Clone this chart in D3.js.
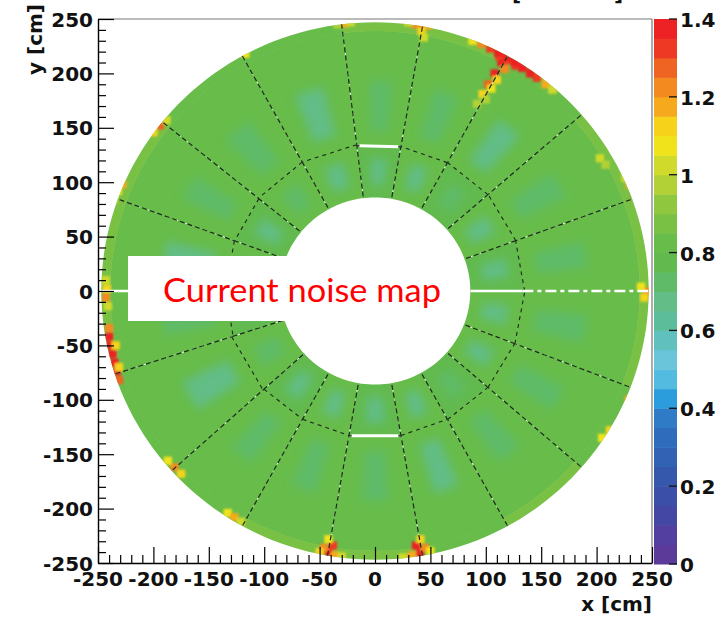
<!DOCTYPE html>
<html><head><meta charset="utf-8">
<script src="https://cdn.jsdelivr.net/npm/d3@7/dist/d3.min.js"></script>
<style>body{margin:0;background:#fff}svg{display:block}</style>
</head><body>
<svg id="c" width="722" height="617"></svg>
<script>
// ---------------- data ----------------
const xTicks = [-250,-200,-150,-100,-50,0,50,100,150,200,250];
const yTicks = [-250,-200,-150,-100,-50,0,50,100,150,200,250];
const zTicks = [0,0.2,0.4,0.6,0.8,1,1.2,1.4];
const zTickLabels = ["0","0.2","0.4","0.6","0.8","1","1.2","1.4"];
const titleText = ["[", "]"];
const xTitle = "x [cm]";
const yTitle = "y [cm]";
const noteText = "Current noise map";

// sector boundary angles (deg)
const sectorAngles = [0,20,41,61,80,97,119,141,160,180,198,222,241,260,280,299,319,339,360];
// radii (cm): hole, middle boundary (flat), start of outer fringe, outer edge
const ringDist = [86,133,239,247];
// per-sector noise values
const innerBase  = [0.79,0.80,0.79,0.80,0.79,0.80,0.80,0.79,0.80,0.79,0.80,0.79,0.80,0.79,0.80,0.79,0.80,0.80];
const innerPatch = [0.68,0.67,0.70,0.68,0.65,0.68,0.70,0.68,0.67,0.68,0.70,0.68,0.67,0.65,0.68,0.70,0.68,0.67];
const outerBase  = [0.80,0.81,0.80,0.81,0.80,0.80,0.81,0.80,0.80,0.81,0.80,0.81,0.80,0.80,0.81,0.80,0.81,0.80];
const outerPatch = [0.70,0.71,0.69,0.70,0.71,0.68,0.70,0.70,0.69,0.70,0.68,0.70,0.71,0.70,0.69,0.70,0.71,0.70];
const outerEdge  = [0.86,0.88,0.82,0.87,0.86,0.84,0.82,0.85,0.86,0.88,0.84,0.82,0.86,0.88,0.84,0.86,0.84,0.85];
// hot cells [x cm, y cm, value]
const hotCells = [
 [121,219,1.4],[114,210,1.4],[108,200,1.35],[102,190,1.25],[97,181,1.1],[92,172,0.95],
 [128,214,1.4],[135,209,1.35],[142,204,1.3],[149,199,1.2],[156,193,1.05],[163,187,0.95],
 [114,224,1.35],[106,228,1.25],[98,232,1.1],[90,235,0.95],[120,212,1.3],[127,207,1.3],[112,216,1.3],
 [131,220,1.3],[138,214,1.35],[145,208,1.25],[117,204,1.2],[110,194,1.1],[152,205,1.1],
 [146,196,1.3],[140,200,1.4],[133,205,1.4],[126,210,1.35],[119,215,1.4],[111,219,1.35],[104,223,1.3],[96,227,1.2],[88,230,1.05],
 [154,190,1.15],[160,185,1.0],[105,186,1.05],[100,176,0.95],
 [42,245,1.4],[36,245,1.2],[48,244,1.15],[42,239,1.1],[30,247,1.0],[44,233,1.0],
 [-28,246,1.15],[-22,247,1.0],[-34,245,0.98],
 [-117,218,1.05],[-194,152,1.25],[-200,146,1.1],[-188,157,1.0],
 [-232,92,1.05],[-236,84,1.0],[-228,98,1.15],
 [-242,2,1.1],[-243,-6,1.2],[-243,10,1.0],[-241,-14,1.0],
 [-240,-34,1.2],[-240,-42,1.35],[-239,-50,1.4],[-237,-58,1.35],[-235,-66,1.4],[-233,-74,1.35],[-231,-82,1.25],[-234,-50,1.1],[-231,-70,1.1],
 [-181,-162,1.2],[-175,-168,1.1],[-187,-156,1.05],[-133,-204,1.05],[-127,-208,1.15],[-121,-212,1.0],
 [-42,-240,1.4],[-38,-234,1.3],[-46,-236,1.2],[-36,-243,1.15],[-50,-240,1.1],[-30,-244,1.0],[-42,-228,1.05],
 [41,-241,1.4],[37,-234,1.35],[45,-236,1.2],[33,-243,1.15],[50,-239,1.05],[41,-228,1.1],[25,-245,1.0],
 [190,-172,1.25],[184,-178,1.1],[196,-166,1.05],[205,-135,1.05],[212,-128,1.1],
 [235,-94,1.3],[229,-100,1.15],[239,-86,1.05],
 [246,0,1.2],[240,4,1.05],[243,-6,1.1],
 [235,90,1.3],[239,82,1.1],[230,98,1.15],[226,104,1.0],[203,122,1.0],[208,116,0.95]
];
// white (dead) gaps: radial [angle, from r, to r]; middle-boundary segments by sector index
const whiteRadial = [[0,86,133],[180,222,247]];
const whiteMid = [4,13];
// colour palette (28 bands of 0.05 from 0 to 1.4)
const paletteColors = ["#5b3a9a","#523f9f","#4547a5","#3b4fa9","#3558ad","#3262b3","#2f6cbb","#2f7bc6",
 "#2b9ddc","#54bbe0","#6ac4da","#5fc0bd","#5bbd9a","#62bd86","#5fbb68","#62ba4e","#67bc4a","#79c145",
 "#8fc73f","#b2d136","#d0da2b","#f0e31b","#f6d31a","#f6a91d","#f38a20","#f06423","#ee3a24","#ec2224"];

// ---------------- scales & helpers ----------------
const svg = d3.select("#c");
const x = d3.scaleLinear().domain([-250,250]).range([98,652]);
const y = d3.scaleLinear().domain([-250,250]).range([563,19]);
const z = d3.scaleLinear().domain([0,1.4]).range([564,19]);
const step = 1.4/paletteColors.length;
const color = v => paletteColors[Math.max(0,Math.min(paletteColors.length-1,Math.floor(v/step+1e-9)))];
const rad = a => a*Math.PI/180;
const nSec = sectorAngles.length-1;
const secMid = i => (sectorAngles[i]+sectorAngles[i+1])/2;
function edgePt(kind, d, ang, mid){ const r = kind==="arc"? d : d/Math.cos(rad(ang-mid)); return [r*Math.cos(rad(ang)), r*Math.sin(rad(ang))]; }
const line = d3.line().x(p=>x(p[0])).y(p=>y(p[1]));
function edge(kind, d, b0, b1, m){ const n=kind==="arc"?10:1; return d3.range(n+1).map(k=>edgePt(kind,d,b0+(b1-b0)*k/n,m)); }
function cell(i, kA, dA, kB, dB, f0=0, f1=1){
  const a0 = sectorAngles[i], a1 = sectorAngles[i+1], m = secMid(i);
  const b0 = a0+(a1-a0)*f0, b1 = a0+(a1-a0)*f1;
  return line(edge(kA,dA,b0,b1,m).concat(edge(kB,dB,b1,b0,m)))+"Z";
}
function circlePath(r){ return line(d3.range(0,361,2).map(a=>[r*Math.cos(rad(a)),r*Math.sin(rad(a))]))+"Z"; }

const defs = svg.append("defs");
defs.append("clipPath").attr("id","disk").append("path")
  .attr("d", circlePath(ringDist[3])+circlePath(ringDist[0])).attr("clip-rule","evenodd");
defs.append("clipPath").attr("id","frame").append("rect").attr("x",98).attr("y",19).attr("width",554).attr("height",544);
defs.append("filter").attr("id","soft").attr("x","-50%").attr("y","-50%").attr("width","200%").attr("height","200%")
  .append("feGaussianBlur").attr("stdDeviation",5);
defs.append("filter").attr("id","soft2").attr("x","-50%").attr("y","-50%").attr("width","200%").attr("height","200%")
  .append("feGaussianBlur").attr("stdDeviation",1.1);

const outerG = svg.append("g").attr("clip-path","url(#frame)");
const heat = outerG.append("g").attr("clip-path","url(#disk)");
const secIdx = d3.range(nSec);
heat.append("g").selectAll("path").data(secIdx).join("path")
  .attr("d",i=>cell(i,"arc",ringDist[0]-3,"flat",ringDist[1])).attr("fill",i=>color(innerBase[i])).attr("stroke",i=>color(innerBase[i])).attr("stroke-width",0.6);
heat.append("g").selectAll("path").data(secIdx).join("path")
  .attr("d",i=>cell(i,"flat",ringDist[1],"arc",ringDist[2])).attr("fill",i=>color(outerBase[i])).attr("stroke",i=>color(outerBase[i])).attr("stroke-width",0.6);
heat.append("g").selectAll("path").data(secIdx).join("path")
  .attr("d",i=>cell(i,"arc",ringDist[2],"arc",ringDist[3]+4)).attr("fill",i=>color(outerEdge[i])).attr("stroke",i=>color(outerEdge[i])).attr("stroke-width",0.6);
const pg = heat.append("g").attr("filter","url(#soft)");
pg.selectAll("path.ip").data(secIdx).join("path").attr("class","ip")
  .attr("d",i=>cell(i,"arc",ringDist[0]+12,"flat",ringDist[1]-12,0.3,0.7)).attr("fill",i=>color(innerPatch[i]));
pg.selectAll("path.op").data(secIdx).join("path").attr("class","op")
  .attr("d",i=>cell(i,"flat",ringDist[1]+14,"arc",ringDist[1]+60,0.32,0.68)).attr("fill",i=>color(outerPatch[i]));
const hs = 7.5;
heat.append("g").attr("filter","url(#soft2)").selectAll("rect").data(hotCells).join("rect")
  .attr("x",d=>x(d[0]-hs/2)).attr("y",d=>y(d[1]+hs/2))
  .attr("width",d=>x(d[0]+hs/2)-x(d[0]-hs/2)).attr("height",d=>y(d[1]-hs/2)-y(d[1]+hs/2))
  .attr("fill",d=>color(d[2]));

// sector boundaries
const lg = heat.append("g");
const dark = "#1b2a19";
secIdx.forEach(i=>{
  const a = sectorAngles[i]; if(a===0) return;
  const m = secMid(i);
  const pIn = edgePt("arc",ringDist[0]-3,a,m), pMid = edgePt("flat",ringDist[1],a,m), pOut = edgePt("arc",ringDist[3]+4,a,m);
  [[pIn,pMid],[pMid,pOut]].forEach(seg=>{
    lg.append("path").attr("d",line(seg)).attr("stroke","#fff").attr("stroke-width",1).attr("stroke-dasharray","2,8").attr("fill","none");
    lg.append("path").attr("d",line(seg)).attr("stroke",dark).attr("stroke-width",1.2).attr("stroke-dasharray","5,3").attr("stroke-dashoffset",3).attr("fill","none");
  });
});
secIdx.forEach(i=>{
  const m=secMid(i);
  lg.append("path").attr("d",line(edge("flat",ringDist[1],sectorAngles[i],sectorAngles[i+1],m))).attr("stroke",dark).attr("stroke-width",1.1)
    .attr("stroke-dasharray","4,4").attr("fill","none");
});
whiteMid.forEach(i=>{
  const m=secMid(i);
  lg.append("path").attr("d",line(edge("flat",ringDist[1],sectorAngles[i]+1,sectorAngles[i+1]-1,m)))
    .attr("stroke","#fff").attr("stroke-width",3).attr("fill","none");
});
whiteRadial.forEach(w=>{
  const a=w[0];
  lg.append("path").attr("d",line([[w[1]*Math.cos(rad(a)),w[1]*Math.sin(rad(a))],[w[2]*Math.cos(rad(a)),w[2]*Math.sin(rad(a))]]))
    .attr("stroke","#fff").attr("stroke-width",2.6).attr("fill","none");
});
lg.append("path").attr("d",line([[133,0],[252,0]])).attr("stroke","#fff").attr("stroke-width",2.6).attr("stroke-dasharray","11,4,4,4").attr("fill","none");

// ---------------- frame & axes ----------------
const fontAx = "'DejaVu Sans', Arial, sans-serif";
const fs = "20px";
svg.append("line").attr("x1",98).attr("x2",652).attr("y1",19).attr("y2",19).attr("stroke","#777").attr("stroke-width",1.2);
svg.append("line").attr("x1",652).attr("x2",652).attr("y1",19).attr("y2",563).attr("stroke","#777").attr("stroke-width",1.2);

const xAxis = d3.axisBottom(x).tickValues(d3.range(-250,251,10)).tickSize(0).tickFormat("");
const xa = svg.append("g").attr("transform","translate(0,563)").call(xAxis);
xa.select(".domain").attr("stroke","#000").attr("stroke-width",1.4);
xa.selectAll(".tick line").attr("y2",t=>(t%50===0)?-16:-8).attr("stroke","#000").attr("stroke-width",1.2);
const yAxis = d3.axisLeft(y).tickValues(d3.range(-250,251,10)).tickSize(0).tickFormat("");
const ya = svg.append("g").attr("transform","translate(98,0)").call(yAxis);
ya.select(".domain").attr("stroke","#000").attr("stroke-width",1.4);
ya.selectAll(".tick line").attr("x2",t=>(t%50===0)?16:8).attr("stroke","#000").attr("stroke-width",1.2);

const txt = s => s.style("font-family",fontAx).style("font-weight","bold").style("font-size",fs).attr("fill","#111");
svg.append("g").selectAll("text").data(yTicks).join("text")
  .attr("x",93).attr("y",t=>y(t)+7.5).attr("text-anchor","end").call(txt).text(t=>t);
svg.append("g").selectAll("text").data(xTicks).join("text")
  .attr("x",t=>x(t)).attr("y",586).attr("text-anchor","middle").call(txt).text(t=>t);
svg.append("text").attr("x",652).attr("y",611).attr("text-anchor","end").call(txt).text(xTitle);
svg.append("text").attr("transform","translate(42,4) rotate(-90)").attr("text-anchor","end").call(txt).text(yTitle);
svg.append("text").attr("x",512).attr("y",1).call(txt).text(titleText[0]);
svg.append("text").attr("x",614).attr("y",1).call(txt).text(titleText[1]);

// ---------------- colour bar ----------------
const bands = d3.range(paletteColors.length);
svg.append("g").selectAll("rect").data(bands).join("rect")
  .attr("x",654).attr("width",23).attr("y",b=>z((b+1)*step)).attr("height",b=>z(b*step)-z((b+1)*step)+0.5)
  .attr("fill",b=>paletteColors[b]);
svg.append("g").selectAll("line").data(zTicks).join("line")
  .attr("x1",669).attr("x2",677).attr("y1",t=>z(t)).attr("y2",t=>z(t)).attr("stroke","#111").attr("stroke-width",1.3);
svg.append("g").selectAll("text").data(zTicks).join("text")
  .attr("x",680).attr("y",t=>z(t)+8).call(txt).text((t,i)=>zTickLabels[i]);

// ---------------- overlay label ----------------
svg.append("rect").attr("x",128).attr("y",256).attr("width",322).attr("height",65).attr("fill","#fff");
svg.append("text").attr("x",163).attr("y",302).attr("fill","#ff0000")
  .style("font-family","Lato, 'Open Sans', sans-serif").style("font-size","32px")
  .attr("textLength",278).attr("lengthAdjust","spacingAndGlyphs").text(noteText);
</script>
</body></html>
